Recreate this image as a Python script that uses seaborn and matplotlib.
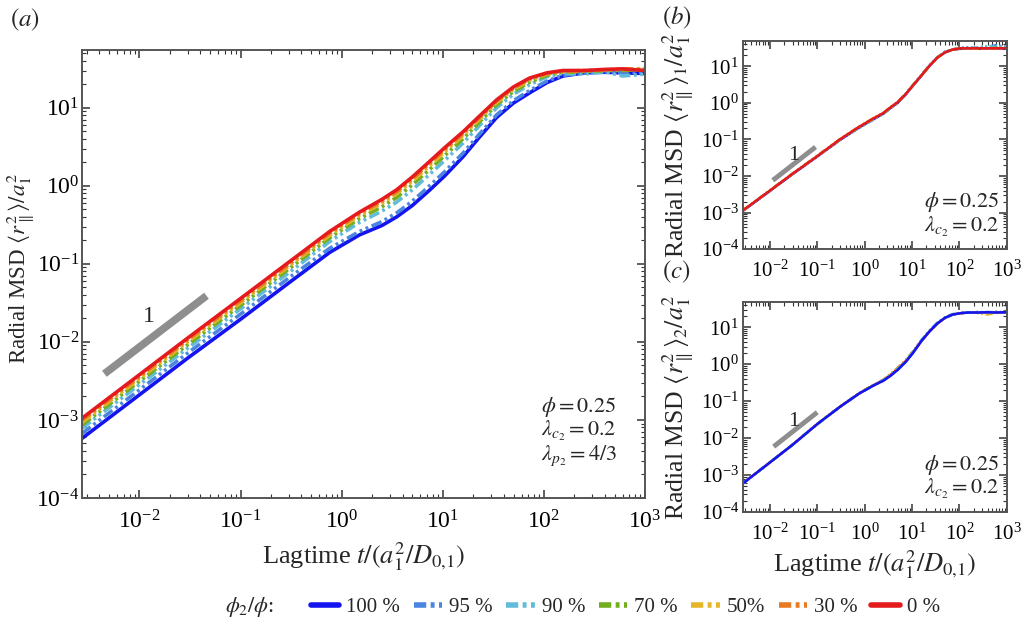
import numpy as np
import pandas as pd
import matplotlib
matplotlib.use("Agg")
import matplotlib.pyplot as plt
import seaborn as sns
from matplotlib.lines import Line2D
from matplotlib.ticker import LogLocator, NullFormatter

# ---------------- data ----------------
lagtime = [0.0027, 0.01, 0.03, 0.1, 0.3, 0.76, 1.5, 2.5, 3.5, 5, 7.4, 10.5, 15.8, 23, 34, 50, 72,
           107, 154, 250, 400, 600, 1000]

series_labels = ["100 %", "95 %", "90 %", "70 %", "50%", "30 %", "0 %"]

# panel (a): radial MSD
a_100 = [5.8e-4, 2.1e-3, 6.2e-3, 1.95e-2, 0.057, 0.14, 0.235, 0.31, 0.40, 0.56, 0.88, 1.35, 2.35, 4.2, 7.5, 11.5, 15.5,
         21, 25.5, 28, 28.5, 28, 27.5]
a_95 = [6.7e-4, 2.43e-3, 7.2e-3, 2.27e-2, 0.066, 0.158, 0.26, 0.348, 0.45, 0.636, 1.0, 1.53, 2.62, 4.6, 8.1, 12.35, 16.6,
        22, 26, 28, 29, 28.5, 28]
a_90 = [7.8e-4, 2.83e-3, 8.3e-3, 2.65e-2, 0.077, 0.193, 0.34, 0.474, 0.62, 0.89, 1.40, 2.13, 3.52, 5.9, 9.97, 14.9, 19.7,
        25, 27.5, 27, 29, 25.5, 27]
a_70 = [8.6e-4, 3.13e-3, 9.2e-3, 2.94e-2, 0.086, 0.216, 0.381, 0.54, 0.71, 1.03, 1.62, 2.46, 3.99, 6.56, 10.9, 16.2, 21.2,
        26, 28.5, 29, 30, 30, 31]
a_50 = [9.3e-4, 3.38e-3, 1.0e-2, 3.18e-2, 0.093, 0.232, 0.416, 0.597, 0.79, 1.146, 1.80, 2.74, 4.39, 7.11, 11.65, 17.2,
        22.5, 27, 29, 29.5, 30.5, 31, 32]
a_30 = [9.9e-4, 3.58e-3, 1.06e-2, 3.38e-2, 0.098, 0.247, 0.439, 0.635, 0.84, 1.225, 1.93, 2.93, 4.65, 7.47, 12.15, 17.9,
        23.3, 27.5, 29.5, 30, 30.5, 31, 31]
a_0 = [1.05e-3, 3.8e-3, 1.12e-2, 3.6e-2, 0.105, 0.26, 0.46, 0.67, 0.89, 1.3, 2.05, 3.1, 4.9, 7.8, 12.6, 18.5, 24,
       28, 30, 30, 31, 31.5, 30]

# panel (b): species 1
b_100 = [1.12e-3, 3.9e-3, 1.12e-2, 3.4e-2, 0.096, 0.21, 0.35, 0.51, 0.72, 1.0, 1.7, 2.95, 5.5, 10, 17, 24, 28.5,
         30, 31, 30, 31, 31, 30]
b_95 = [1.13e-3, 3.95e-3, 1.13e-2, 3.45e-2, 0.097, 0.205, 0.34, 0.5, 0.70, 1.0, 1.72, 3.0, 5.7, 10.3, 17.5, 25, 29,
        32, 33, 31, 34, 38, 33]
b_90 = [1.14e-3, 4.0e-3, 1.14e-2, 3.45e-2, 0.098, 0.21, 0.345, 0.5, 0.71, 1.02, 1.8, 3.1, 5.8, 10.3, 17.5, 25, 29,
        32, 31, 33, 36, 34, 32]
b_70 = [1.15e-3, 4.0e-3, 1.15e-2, 3.5e-2, 0.1, 0.215, 0.36, 0.52, 0.74, 1.04, 1.75, 3.0, 5.6, 10, 17, 24, 28.5,
        31, 31, 30, 31, 32, 31]
b_50 = [1.15e-3, 4.0e-3, 1.15e-2, 3.5e-2, 0.1, 0.22, 0.37, 0.53, 0.75, 1.05, 1.75, 3.0, 5.6, 10, 17, 24, 28.5,
        31, 30, 31, 31, 31, 32]
b_30 = [1.15e-3, 4.0e-3, 1.15e-2, 3.5e-2, 0.1, 0.22, 0.37, 0.53, 0.75, 1.05, 1.75, 3.0, 5.6, 10, 17, 24, 28.5,
        31, 31, 31, 30, 31, 31]
b_0 = [1.15e-3, 4.0e-3, 1.15e-2, 3.5e-2, 0.1, 0.22, 0.37, 0.53, 0.75, 1.05, 1.75, 3.0, 5.6, 10, 17, 24, 28.5,
       31, 31, 31, 31, 31, 31]

# panel (c): species 2
c_100 = [6.0e-4, 2.2e-3, 6.6e-3, 2.4e-2, 0.07, 0.16, 0.26, 0.36, 0.48, 0.70, 1.15, 2.0, 4.2, 7.5, 12.5, 18, 22,
         24, 25, 25, 25.5, 25, 25.5]
c_95 = [6.0e-4, 2.2e-3, 6.6e-3, 2.4e-2, 0.07, 0.16, 0.26, 0.36, 0.49, 0.72, 1.2, 2.1, 4.4, 7.8, 13, 18.5, 22.5,
        24.5, 25, 26, 25, 26, 25]
c_90 = [6.0e-4, 2.2e-3, 6.6e-3, 2.4e-2, 0.07, 0.16, 0.26, 0.37, 0.5, 0.74, 1.22, 2.15, 4.5, 7.9, 13, 18.5, 22.5,
        24.5, 25.5, 25, 26, 25, 26]
c_70 = [6.0e-4, 2.2e-3, 6.6e-3, 2.4e-2, 0.07, 0.16, 0.265, 0.37, 0.51, 0.75, 1.22, 2.1, 4.3, 7.6, 12.5, 18, 22,
        24, 25, 25.5, 25, 26, 25]
c_50 = [6.0e-4, 2.2e-3, 6.6e-3, 2.4e-2, 0.07, 0.165, 0.27, 0.38, 0.53, 0.78, 1.28, 2.2, 4.3, 7.5, 12.5, 18, 22,
        24, 25, 24, 22, 25, 26]
c_30 = [6.0e-4, 2.2e-3, 6.6e-3, 2.4e-2, 0.07, 0.165, 0.27, 0.38, 0.54, 0.8, 1.3, 2.2, 4.3, 7.4, 12.3, 17.8, 22,
        24, 25, 25, 25, 24.5, 25]
c_0 = [6.0e-4, 2.2e-3, 6.6e-3, 2.4e-2, 0.07, 0.16, 0.265, 0.37, 0.51, 0.75, 1.22, 2.1, 4.3, 7.5, 12.5, 18, 22,
       24, 25, 25, 25, 25, 25]

# slope-1 guide lines (lagtime, MSD)
guide_a_t = [0.0045, 0.046]
guide_a_y = [0.0039, 0.039]
guide_b_t = [0.0115, 0.092]
guide_b_y = [0.0076, 0.062]
guide_c_t = [0.012, 0.1]
guide_c_y = [0.0059, 0.05]

colors = ["#1414f0", "#4a86e0", "#62bcd8", "#72ae1e", "#e4b628", "#e87a22", "#e41a1c"]
dash_styles = ["", (3, 1, 0.8, 1, 0.8, 1), (3, 1, 0.8, 1, 0.8, 1), (3, 1, 0.8, 1, 0.8, 1),
               (3, 1, 0.8, 1, 0.8, 1), (3, 1, 0.8, 1, 0.8, 1), ""]

palette = dict(zip(series_labels, colors))
dashes = dict(zip(series_labels, dash_styles))


def long_frame(series):
    frames = []
    for lab, vals in zip(series_labels, series):
        frames.append(pd.DataFrame({"t": lagtime, "msd": vals, "phi": lab}))
    return pd.concat(frames, ignore_index=True)


df_a = long_frame([a_100, a_95, a_90, a_70, a_50, a_30, a_0])
df_b = long_frame([b_100, b_95, b_90, b_70, b_50, b_30, b_0])
df_c = long_frame([c_100, c_95, c_90, c_70, c_50, c_30, c_0])

# ---------------- style ----------------
sns.set_theme(style="white")
plt.rcParams["font.family"] = ["Liberation Serif", "DejaVu Serif"]
plt.rcParams["mathtext.fontset"] = "stix"
plt.rcParams["axes.edgecolor"] = "#555555"

fig = plt.figure(figsize=(10.22, 6.26), dpi=100)
ax_a = fig.add_axes([0.0802, 0.2045, 0.551, 0.7157])
ax_b = fig.add_axes([0.727, 0.602, 0.258, 0.332])
ax_c = fig.add_axes([0.727, 0.182, 0.258, 0.3355])


def style_axes(ax, labelsize, ylim_top, xpad, ypad):
    ax.set_xscale("log")
    ax.set_yscale("log")
    ax.set_xlim(0.0027, 1000)
    ax.set_ylim(1e-4, ylim_top)
    for axis in (ax.xaxis, ax.yaxis):
        axis.set_major_locator(LogLocator(base=10, numticks=20))
        axis.set_minor_locator(LogLocator(base=10, subs=np.arange(2, 10), numticks=20))
        axis.set_minor_formatter(NullFormatter())
    ax.tick_params(which="both", direction="in", top=True, right=True, bottom=True, left=True,
                   colors="#333333", labelcolor="black")
    ax.tick_params(which="major", length=6, width=1.1, labelsize=labelsize)
    ax.tick_params(which="minor", length=3, width=0.8)
    ax.tick_params(axis="x", which="major", pad=xpad)
    ax.tick_params(axis="y", which="major", pad=ypad)
    for sp in ax.spines.values():
        sp.set_linewidth(1.4)
        sp.set_color("#555555")
    ax.set_xlabel("")
    ax.set_ylabel("")


sns.lineplot(data=df_a, x="t", y="msd", hue="phi", style="phi", hue_order=series_labels,
             style_order=series_labels, palette=palette, dashes=dashes, estimator=None,
             linewidth=2.6, legend=False, ax=ax_a)
sns.lineplot(data=df_b, x="t", y="msd", hue="phi", style="phi", hue_order=series_labels,
             style_order=series_labels, palette=palette, dashes=dashes, estimator=None,
             linewidth=1.8, legend=False, ax=ax_b)
rev = series_labels[::-1]
sns.lineplot(data=df_c, x="t", y="msd", hue="phi", style="phi", hue_order=rev,
             style_order=rev, palette=palette, dashes=dashes, estimator=None,
             linewidth=1.8, legend=False, ax=ax_c)

style_axes(ax_a, 17, 55, 9, 2)
style_axes(ax_b, 15, 48, 8, 3)
style_axes(ax_c, 15, 48, 8, 3)

# guide lines
ax_a.plot(guide_a_t, guide_a_y, color="#8e8e8e", lw=5.5, solid_capstyle="butt")
ax_a.text(0.0125, 0.021, "1", fontsize=17, ha="center", va="center")
ax_b.plot(guide_b_t, guide_b_y, color="#8e8e8e", lw=3.5, solid_capstyle="butt")
ax_b.text(0.032, 0.036, "1", fontsize=16, ha="center", va="center")
ax_c.plot(guide_c_t, guide_c_y, color="#8e8e8e", lw=3.5, solid_capstyle="butt")
ax_c.text(0.031, 0.029, "1", fontsize=16, ha="center", va="center")

# labels
ylab_a = r"Radial MSD $\langle r_{\parallel}^{2}\rangle/a_{1}^{2}$"
ylab_b = r"Radial MSD $\langle r_{\parallel}^{2}\rangle_{1}/a_{1}^{2}$"
ylab_c = r"Radial MSD $\langle r_{\parallel}^{2}\rangle_{2}/a_{1}^{2}$"
xlab = r"Lagtime $t/(a_{1}^{2}/D_{0{,}1})$"

ax_a.set_ylabel(ylab_a, fontsize=16.5)
ax_a.yaxis.set_label_coords(-0.082, 0.513)
ax_a.set_xlabel(xlab, fontsize=19)
ax_a.xaxis.set_label_coords(0.5, -0.095)

ax_b.set_ylabel(ylab_b, fontsize=18.5)
ax_b.yaxis.set_label_coords(-0.18, 0.5)
ax_c.set_ylabel(ylab_c, fontsize=18.5)
ax_c.yaxis.set_label_coords(-0.18, 0.5)
ax_c.set_xlabel(xlab, fontsize=19)
ax_c.xaxis.set_label_coords(0.5, -0.17)

# annotations
ann_kw = dict(fontsize=16, ha="left", va="center")
ax_a.text(0.815, 0.203, r"$\phi = 0.25$", transform=ax_a.transAxes, **ann_kw)
ax_a.text(0.815, 0.150, r"$\lambda_{c_2} = 0.2$", transform=ax_a.transAxes, **ann_kw)
ax_a.text(0.815, 0.094, r"$\lambda_{p_2} = 4/3$", transform=ax_a.transAxes, **ann_kw)
ax_b.text(0.685, 0.225, r"$\phi = 0.25$", transform=ax_b.transAxes, **ann_kw)
ax_b.text(0.685, 0.105, r"$\lambda_{c_2} = 0.2$", transform=ax_b.transAxes, **ann_kw)
ax_c.text(0.685, 0.225, r"$\phi = 0.25$", transform=ax_c.transAxes, **ann_kw)
ax_c.text(0.685, 0.110, r"$\lambda_{c_2} = 0.2$", transform=ax_c.transAxes, **ann_kw)

# panel letters
fig.text(0.010, 0.968, r"$(a)$", fontsize=18, ha="left", va="center")
fig.text(0.648, 0.971, r"$(b)$", fontsize=18, ha="left", va="center")
fig.text(0.648, 0.566, r"$(c)$", fontsize=18, ha="left", va="center")

# legend
handles = []
for c, d in zip(colors, dash_styles):
    if d:
        handles.append(Line2D([0], [0], color=c, lw=4, linestyle=(0, (2.2, 0.8, 0.7, 0.8, 0.7, 0.8))))
    else:
        handles.append(Line2D([0], [0], color=c, lw=4))
fig.text(0.220, 0.030, r"$\phi_2/\phi$:", fontsize=16, ha="left", va="center")
fig.legend(handles, series_labels, ncol=7, loc="center", bbox_to_anchor=(0.612, 0.030),
           frameon=False, fontsize=15, handlelength=1.35, handletextpad=0.35,
           columnspacing=0.65, borderpad=0, borderaxespad=0)

fig.savefig("out.png", dpi=100)
